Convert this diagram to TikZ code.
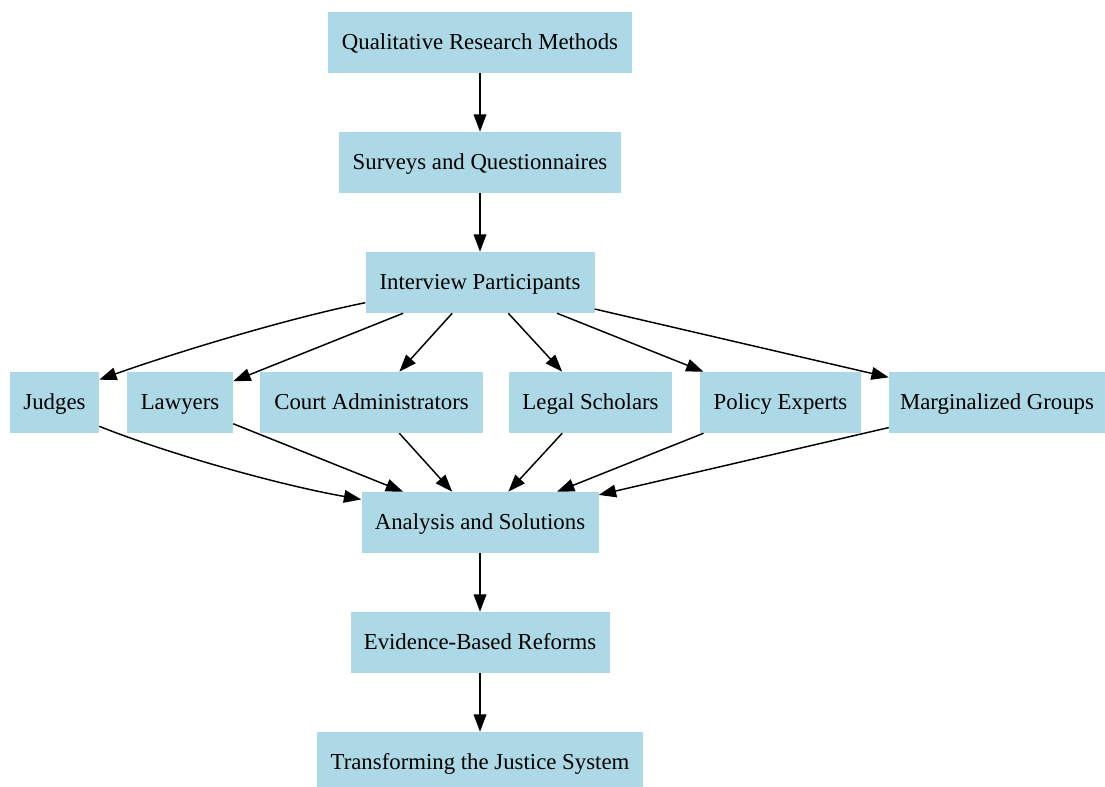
\documentclass[tikz,border=0pt]{standalone}
\usepackage{fontspec}
\setmainfont{Liberation Serif}
\usetikzlibrary{arrows.meta}
\definecolor{boxblue}{HTML}{ADD8E6}
\begin{document}
\begin{tikzpicture}[x=0.75pt,y=-0.75pt,
  box/.style={fill=boxblue,draw=none,minimum height=61*0.75pt,inner sep=0pt,
    text height=12.2pt,text depth=2pt,
    font=\fontsize{17.1}{20}\selectfont,text=black},
  edge/.style={line width=1.1pt,-{Triangle[length=13pt,width=9.5pt]}}]
\useasboundingbox (0,0) rectangle (1105,787);
\node[box,minimum width=304*0.75pt] (qrm) at (480,42.5) {Qualitative Research Methods};
\node[box,minimum width=282*0.75pt] (sur) at (480,162.5) {Surveys and Questionnaires};
\node[box,minimum width=229*0.75pt] (ip) at (480,282.5) {Interview Participants};
\node[box,minimum width=89*0.75pt] (jud) at (54.5,402.5) {Judges};
\node[box,minimum width=106*0.75pt] (law) at (180,402.5) {Lawyers};
\node[box,minimum width=223*0.75pt] (cou) at (371.5,402.5) {Court Administrators};
\node[box,minimum width=163*0.75pt] (leg) at (590.5,402.5) {Legal Scholars};
\node[box,minimum width=161*0.75pt] (pol) at (780.5,402.5) {Policy Experts};
\node[box,minimum width=216*0.75pt] (mar) at (997,402.5) {Marginalized Groups};
\node[box,minimum width=237*0.75pt] (ana) at (480,522.5) {Analysis and Solutions};
\node[box,minimum width=259*0.75pt] (evi) at (480,642.5) {Evidence-Based Reforms};
\node[box,minimum width=326*0.75pt] (tra) at (480,762.5) {Transforming the Justice System};

\draw[edge] (qrm) -- (sur);
\draw[edge] (sur) -- (ip);
\draw[edge] (ip.190) .. controls +(-80,16) and +(70,-25) .. (jud.27);
\draw[edge] (ip) -- (law);
\draw[edge] (ip) -- (cou);
\draw[edge] (ip) -- (leg);
\draw[edge] (ip) -- (pol);
\draw[edge] (ip) -- (mar);
\draw[edge] (jud.-28) .. controls +(70,28) and +(-80,-14) .. (ana.169);
\draw[edge] (law) -- (ana);
\draw[edge] (cou) -- (ana);
\draw[edge] (leg) -- (ana);
\draw[edge] (pol) -- (ana);
\draw[edge] (mar) -- (ana);
\draw[edge] (ana) -- (evi);
\draw[edge] (evi) -- (tra);
\end{tikzpicture}
\end{document}
